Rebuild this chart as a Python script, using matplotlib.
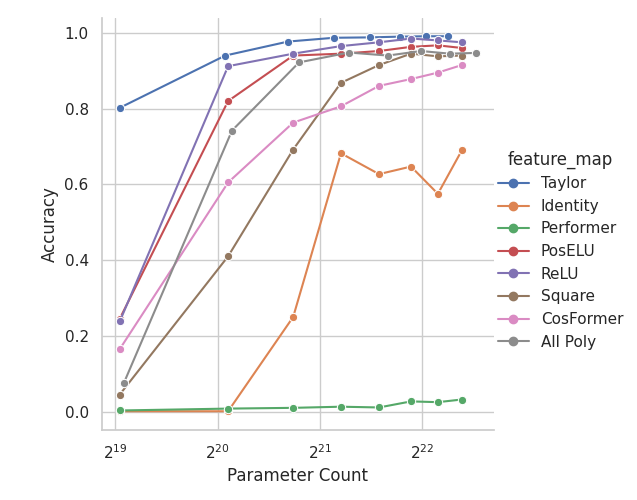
import pandas as pd
import seaborn as sns
import matplotlib.pyplot as plt

sns.set_theme(style="whitegrid")

maps = ["Taylor", "Identity", "Performer", "PosELU", "ReLU", "Square", "CosFormer", "All Poly"]

params_taylor = [540000, 1103000, 1689000, 2306000, 2941000, 3601000, 4295000, 4986000]
params_main = [540000, 1125000, 1748000, 2416000, 3126000, 3882000, 4657000, 5478000]
params_poly = [555000, 1155000, 1819000, 2551000, 3320000, 4153000, 5050000, 6023000]

acc = {
    "Taylor": [0.802, 0.940, 0.977, 0.987, 0.988, 0.990, 0.991, 0.991],
    "Identity": [0.001, 0.001, 0.250, 0.682, 0.627, 0.647, 0.575, 0.690],
    "Performer": [0.003, 0.008, 0.010, 0.013, 0.011, 0.027, 0.025, 0.032],
    "PosELU": [0.245, 0.820, 0.940, 0.945, 0.952, 0.963, 0.967, 0.960],
    "ReLU": [0.238, 0.912, 0.945, 0.965, 0.975, 0.985, 0.980, 0.975],
    "Square": [0.045, 0.410, 0.692, 0.868, 0.915, 0.945, 0.938, 0.940],
    "CosFormer": [0.165, 0.605, 0.763, 0.806, 0.860, 0.878, 0.895, 0.915],
    "All Poly": [0.075, 0.742, 0.922, 0.948, 0.940, 0.952, 0.945, 0.947],
}

rows = []
for m in maps:
    xs = params_taylor if m == "Taylor" else params_poly if m == "All Poly" else params_main
    for x, a in zip(xs, acc[m]):
        rows.append({"Parameter Count": x, "Accuracy": a, "feature_map": m})
df = pd.DataFrame(rows)

g = sns.relplot(data=df, x="Parameter Count", y="Accuracy", hue="feature_map",
                kind="line", marker="o", height=5, aspect=0.8, hue_order=maps)
g.ax.set_xscale("log", base=2)
g.figure.set_size_inches(6.37, 5)
g.figure.subplots_adjust(left=0.16, right=0.775, bottom=0.14, top=0.965)
plt.savefig("out.png", dpi=100)
